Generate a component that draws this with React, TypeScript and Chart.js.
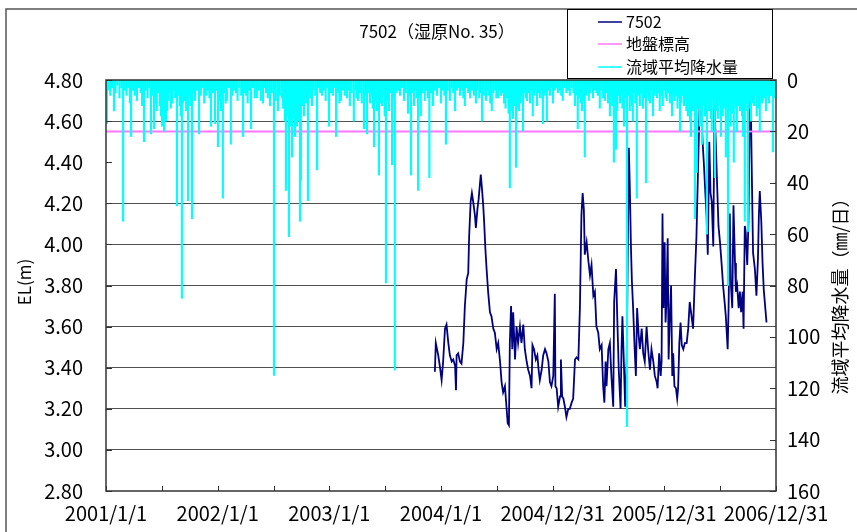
import React, { useEffect, useRef } from "react";
import { Chart, registerables } from "chart.js";

Chart.register(...registerables);

const TITLE = "7502（湿原No. 35）";
const LEFT_AXIS_TITLE = "EL(m)";
const RIGHT_AXIS_TITLE = "流域平均降水量（㎜/日）";

// x axis: days counted from 2001/1/1
const X_MIN_DAY = 0;
const X_MAX_DAY = 2190;
const X_STEP = 365;
const X_MINOR_STEP = 182.5;
const xTickLabels = ["2001/1/1", "2002/1/1", "2003/1/1", "2004/1/1", "2004/12/31", "2005/12/31", "2006/12/31"];

const LEVEL_MIN = 2.8;
const LEVEL_MAX = 4.8;
const LEVEL_STEP = 0.2;
const levelNoGrid = [4.4];

const RAIN_MIN = 0;
const RAIN_MAX = 160;
const RAIN_STEP = 20;

const groundElevation = 4.55;

const seriesLabels = ["7502", "地盤標高", "流域平均降水量"];
const seriesColors = ["#000080", "#FF77FF", "#00FFFF"];

// [day, EL (m)]
const levelSeries: [number, number][] = [
  [1075, 3.38], [1078, 3.52], [1086, 3.46], [1091, 3.41], [1097, 3.34], [1102, 3.43], [1108, 3.59], [1113, 3.61],
  [1119, 3.52], [1124, 3.46], [1130, 3.43], [1135, 3.44], [1141, 3.41], [1144, 3.29], [1146, 3.46], [1151, 3.47],
  [1157, 3.43], [1162, 3.42], [1168, 3.52], [1173, 3.70], [1179, 3.83], [1184, 3.86], [1187, 4.04], [1192, 4.21],
  [1196, 4.25], [1200, 4.21], [1206, 4.14], [1209, 4.08], [1214, 4.17], [1218, 4.22], [1222, 4.29], [1225, 4.34],
  [1229, 4.27], [1233, 4.19], [1236, 4.11], [1240, 3.98], [1244, 3.88], [1249, 3.77], [1255, 3.67], [1260, 3.65],
  [1266, 3.59], [1271, 3.57], [1277, 3.49], [1282, 3.52], [1288, 3.43], [1293, 3.33], [1298, 3.28], [1304, 3.31],
  [1309, 3.21], [1313, 3.13], [1317, 3.12], [1320, 3.52], [1324, 3.70], [1328, 3.49], [1331, 3.67], [1337, 3.44],
  [1342, 3.60], [1347, 3.52], [1353, 3.60], [1358, 3.52], [1364, 3.61], [1369, 3.49], [1375, 3.43], [1380, 3.39],
  [1386, 3.36], [1391, 3.30], [1394, 3.51], [1399, 3.49], [1405, 3.44], [1410, 3.46], [1414, 3.39], [1418, 3.34],
  [1424, 3.39], [1429, 3.46], [1435, 3.49], [1440, 3.47], [1446, 3.43], [1451, 3.33], [1456, 3.31], [1462, 3.36],
  [1467, 3.76], [1469, 3.31], [1473, 3.30], [1478, 3.21], [1484, 3.26], [1487, 3.44], [1491, 3.26], [1495, 3.25],
  [1500, 3.21], [1505, 3.16], [1511, 3.20], [1516, 3.20], [1522, 3.23], [1527, 3.25], [1533, 3.44], [1538, 3.45],
  [1544, 3.44], [1549, 3.69], [1554, 4.14], [1558, 4.25], [1562, 4.17], [1565, 3.95], [1571, 4.01], [1576, 3.93],
  [1582, 3.85], [1587, 3.90], [1593, 3.75], [1598, 3.77], [1603, 3.60], [1609, 3.57], [1614, 3.49], [1620, 3.51],
  [1625, 3.31], [1629, 3.23], [1633, 3.43], [1636, 3.31], [1642, 3.49], [1647, 3.52], [1652, 3.36], [1658, 3.21],
  [1661, 3.72], [1667, 3.88], [1671, 3.65], [1676, 3.39], [1682, 3.20], [1685, 3.49], [1688, 3.65], [1693, 3.41],
  [1697, 3.21], [1702, 3.44], [1706, 4.04], [1709, 4.47], [1712, 4.29], [1716, 3.98], [1719, 3.82], [1723, 3.69],
  [1728, 3.49], [1732, 3.36], [1736, 3.69], [1741, 3.56], [1745, 3.49], [1751, 3.59], [1756, 3.47], [1761, 3.43],
  [1767, 3.60], [1772, 3.49], [1778, 3.39], [1783, 3.49], [1789, 3.43], [1794, 3.36], [1800, 3.33], [1803, 3.30],
  [1808, 3.47], [1813, 3.36], [1816, 3.43], [1819, 4.15], [1822, 3.69], [1826, 4.01], [1829, 3.62], [1832, 3.72],
  [1836, 4.03], [1839, 3.44], [1843, 3.65], [1847, 3.80], [1851, 3.36], [1854, 3.47], [1858, 3.31], [1863, 3.30],
  [1867, 3.25], [1870, 3.30], [1874, 3.52], [1878, 3.62], [1882, 3.51], [1887, 3.49], [1892, 3.52], [1898, 3.52],
  [1903, 3.59], [1908, 3.72], [1914, 3.65], [1919, 3.59], [1925, 3.85], [1930, 4.04], [1936, 4.42], [1941, 4.71],
  [1946, 4.66], [1950, 4.50], [1954, 4.40], [1959, 4.25], [1963, 4.14], [1967, 3.95], [1972, 4.50], [1976, 4.25],
  [1980, 4.21], [1985, 3.99], [1989, 4.68], [1993, 4.50], [1998, 4.27], [2002, 4.09], [2007, 4.01], [2012, 3.91],
  [2017, 3.80], [2022, 3.72], [2026, 3.65], [2032, 3.49], [2035, 3.69], [2039, 4.15], [2042, 3.82], [2047, 3.69],
  [2051, 4.19], [2056, 3.91], [2059, 3.77], [2063, 3.80], [2068, 3.69], [2072, 3.77], [2076, 3.67], [2081, 3.77],
  [2084, 3.59], [2088, 4.09], [2091, 4.06], [2096, 3.90], [2100, 4.11], [2105, 4.76], [2108, 4.66], [2111, 4.34],
  [2115, 3.96], [2121, 3.88], [2126, 3.75], [2131, 3.93], [2134, 4.14], [2137, 4.26], [2142, 4.11], [2146, 3.91],
  [2150, 3.78], [2155, 3.69], [2159, 3.62],
];

// [day, mm/day]
const rainSeries: [number, number][] = [
  [3, 17], [8, 4], [14, 6], [20, 3], [26, 12], [31, 5], [37, 2], [44, 7], [50, 3], [56, 55], [61, 4], [67, 6], [73, 3],
  [78, 9], [82, 22], [88, 4], [94, 6], [101, 8], [107, 3], [113, 5], [118, 10], [124, 24], [130, 4], [136, 7], [141, 3],
  [147, 21], [152, 6], [157, 19], [162, 9], [166, 12], [170, 5], [176, 10], [180, 14], [183, 18], [187, 11], [190, 20],
  [193, 9], [196, 16], [200, 12], [203, 8], [207, 5], [212, 11], [216, 9], [221, 4], [226, 7], [232, 49], [236, 6],
  [241, 10], [245, 14], [248, 85], [252, 9], [258, 8], [262, 12], [268, 47], [272, 6], [277, 10], [281, 54], [286, 5],
  [291, 8], [297, 4], [304, 21], [310, 6], [315, 3], [321, 9], [327, 6], [333, 4], [338, 7], [343, 18], [349, 5],
  [356, 17], [361, 4], [366, 26], [371, 8], [376, 12], [382, 46], [387, 5], [391, 9], [395, 8], [401, 3], [408, 25],
  [413, 6], [419, 4], [425, 5], [430, 8], [436, 3], [442, 6], [448, 22], [453, 5], [458, 6], [463, 9], [468, 4],
  [474, 19], [480, 3], [486, 7], [493, 7], [499, 4], [506, 8], [513, 9], [518, 3], [523, 5], [529, 7], [536, 10],
  [542, 5], [549, 115], [555, 8], [562, 12], [568, 6], [575, 7], [579, 11], [582, 10], [585, 16], [588, 43], [591, 14],
  [595, 9], [598, 61], [602, 13], [605, 18], [608, 30], [612, 15], [615, 11], [618, 22], [621, 9], [624, 18], [628, 12],
  [631, 16], [634, 55], [637, 39], [641, 10], [644, 8], [647, 14], [651, 6], [655, 9], [660, 47], [664, 5], [668, 7],
  [673, 10], [678, 4], [684, 6], [690, 35], [695, 3], [700, 5], [706, 6], [712, 4], [718, 8], [723, 3], [729, 18],
  [735, 5], [742, 6], [747, 3], [752, 22], [758, 5], [763, 9], [768, 8], [774, 4], [780, 6], [785, 3], [788, 7],
  [793, 4], [797, 10], [803, 5], [810, 16], [816, 4], [820, 7], [824, 8], [830, 5], [836, 9], [843, 19], [848, 6],
  [853, 21], [858, 5], [863, 9], [868, 6], [872, 11], [876, 26], [880, 8], [885, 12], [889, 7], [892, 37], [896, 9],
  [902, 10], [906, 6], [911, 14], [915, 79], [919, 8], [925, 12], [929, 5], [935, 33], [939, 7], [944, 113], [949, 5],
  [955, 4], [961, 6], [967, 3], [974, 8], [980, 5], [987, 13], [992, 6], [997, 37], [1002, 5], [1007, 10], [1012, 4],
  [1016, 7], [1020, 43], [1025, 6], [1029, 14], [1034, 5], [1038, 3], [1042, 8], [1047, 4], [1052, 7], [1057, 38],
  [1062, 5], [1069, 10], [1075, 4], [1082, 6], [1088, 3], [1095, 9], [1101, 4], [1106, 6], [1111, 25], [1117, 4],
  [1124, 8], [1130, 3], [1135, 5], [1141, 12], [1147, 4], [1152, 3], [1157, 6], [1163, 4], [1168, 7], [1173, 10],
  [1179, 3], [1184, 5], [1190, 7], [1196, 4], [1203, 6], [1209, 9], [1214, 4], [1220, 7], [1225, 5], [1229, 16],
  [1235, 6], [1242, 8], [1247, 4], [1252, 6], [1256, 9], [1261, 12], [1266, 5], [1272, 4], [1276, 7], [1281, 7],
  [1286, 4], [1291, 6], [1296, 5], [1301, 9], [1306, 11], [1311, 7], [1316, 13], [1320, 42], [1324, 9], [1327, 12],
  [1330, 15], [1334, 10], [1337, 8], [1340, 34], [1344, 11], [1347, 7], [1350, 12], [1354, 9], [1358, 6], [1363, 20],
  [1368, 5], [1372, 7], [1376, 8], [1381, 5], [1386, 9], [1390, 4], [1395, 14], [1400, 6], [1405, 4], [1409, 10],
  [1414, 5], [1419, 7], [1423, 4], [1428, 17], [1433, 6], [1437, 5], [1441, 16], [1446, 4], [1451, 6], [1456, 3],
  [1461, 9], [1467, 4], [1472, 3], [1477, 5], [1483, 4], [1488, 6], [1493, 8], [1499, 3], [1505, 5], [1510, 4],
  [1516, 6], [1522, 3], [1528, 5], [1533, 10], [1538, 6], [1542, 19], [1547, 7], [1552, 9], [1556, 12], [1560, 8],
  [1565, 30], [1569, 6], [1574, 4], [1578, 8], [1583, 5], [1588, 3], [1592, 7], [1597, 4], [1603, 5], [1608, 6],
  [1614, 11], [1619, 4], [1625, 7], [1631, 8], [1636, 5], [1641, 9], [1647, 14], [1651, 6], [1655, 10], [1660, 32],
  [1664, 8], [1667, 27], [1671, 12], [1675, 6], [1680, 9], [1684, 5], [1688, 11], [1693, 18], [1698, 7], [1703, 135],
  [1707, 6], [1712, 12], [1716, 8], [1719, 10], [1722, 16], [1726, 5], [1730, 9], [1735, 46], [1740, 6], [1745, 10],
  [1750, 5], [1755, 11], [1760, 7], [1765, 40], [1770, 5], [1774, 8], [1778, 9], [1783, 4], [1788, 14], [1793, 6],
  [1797, 4], [1801, 7], [1806, 5], [1810, 12], [1815, 6], [1820, 10], [1825, 4], [1829, 7], [1833, 8], [1838, 5],
  [1843, 9], [1846, 6], [1850, 14], [1855, 5], [1859, 8], [1863, 6], [1868, 11], [1872, 7], [1876, 20], [1880, 9],
  [1884, 6], [1889, 10], [1893, 8], [1897, 12], [1902, 14], [1906, 9], [1909, 16], [1912, 22], [1915, 10], [1918, 12],
  [1921, 8], [1925, 54], [1928, 14], [1931, 36], [1935, 11], [1938, 9], [1941, 18], [1945, 12], [1948, 25], [1951, 8],
  [1955, 10], [1958, 14], [1961, 9], [1964, 60], [1968, 7], [1971, 12], [1974, 9], [1977, 15], [1980, 20], [1984, 8],
  [1987, 11], [1990, 38], [1994, 9], [1997, 12], [2000, 15], [2004, 7], [2007, 10], [2010, 22], [2013, 9], [2016, 14],
  [2020, 8], [2023, 11], [2026, 30], [2029, 10], [2033, 80], [2036, 9], [2039, 12], [2042, 18], [2046, 8], [2049, 13],
  [2052, 32], [2055, 9], [2059, 11], [2062, 20], [2065, 8], [2069, 10], [2072, 12], [2076, 9], [2079, 14], [2082, 22],
  [2085, 10], [2088, 55], [2091, 12], [2095, 9], [2098, 59], [2101, 11], [2105, 8], [2108, 16], [2112, 7], [2115, 9],
  [2118, 10], [2122, 6], [2127, 14], [2131, 8], [2134, 11], [2137, 20], [2141, 6], [2144, 9], [2147, 8], [2151, 5],
  [2154, 7], [2157, 12], [2161, 6], [2164, 4], [2167, 9], [2171, 6], [2173, 6], [2177, 5], [2180, 28], [2184, 7],
  [2188, 4],
];

const FONT = "'Liberation Sans Narrow', 'Noto Sans CJK JP', sans-serif";
const CJK_FONT = "'Noto Sans CJK JP', 'Liberation Sans Narrow', sans-serif";

const decorPlugin = {
  id: "decor",
  beforeDraw(chart: any) {
    const { ctx, width, height } = chart;
    ctx.save();
    ctx.fillStyle = "#ffffff";
    ctx.fillRect(0, 0, width, height);
    ctx.restore();
  },
  afterDraw(chart: any) {
    const { ctx, chartArea: a, scales } = chart;
    ctx.save();

    // outer frame
    ctx.strokeStyle = "#555555";
    ctx.lineWidth = 1.5;
    ctx.beginPath();
    ctx.moveTo(6, 540);
    ctx.lineTo(6, 9);
    ctx.lineTo(860, 9);
    ctx.stroke();

    // plot border
    ctx.strokeStyle = "#333333";
    ctx.lineWidth = 1.5;
    ctx.strokeRect(a.left, a.top, a.right - a.left, a.bottom - a.top);

    // inward ticks
    ctx.lineWidth = 1;
    ctx.beginPath();
    scales.y.ticks.forEach((t: any) => {
      const py = Math.round(scales.y.getPixelForValue(t.value)) + 0.5;
      ctx.moveTo(a.left, py);
      ctx.lineTo(a.left + 6, py);
    });
    scales.y2.ticks.forEach((t: any) => {
      const py = Math.round(scales.y2.getPixelForValue(t.value)) + 0.5;
      ctx.moveTo(a.right - 6, py);
      ctx.lineTo(a.right, py);
    });
    for (let d = X_MIN_DAY; d <= X_MAX_DAY + 0.01; d += X_MINOR_STEP) {
      const px = Math.round(scales.x.getPixelForValue(d)) + 0.5;
      ctx.moveTo(px, a.bottom);
      ctx.lineTo(px, a.bottom - 5);
    }
    ctx.stroke();

    // title
    ctx.fillStyle = "#000000";
    ctx.font = `17px ${FONT}`;
    ctx.textAlign = "center";
    ctx.textBaseline = "middle";
    ctx.fillText(TITLE, 437, 32);

    // axis titles
    ctx.save();
    ctx.translate(25, 282);
    ctx.rotate(-Math.PI / 2);
    ctx.font = `17px ${FONT}`;
    ctx.fillText(LEFT_AXIS_TITLE, 0, 0);
    ctx.restore();

    ctx.save();
    ctx.translate(840, 292);
    ctx.rotate(-Math.PI / 2);
    ctx.font = `18px ${CJK_FONT}`;
    ctx.fillText(RIGHT_AXIS_TITLE, 0, 0);
    ctx.restore();

    // legend
    const lx = 567.5, ly = 9.5, lw = 205, lh = 69;
    ctx.fillStyle = "#ffffff";
    ctx.fillRect(lx, ly, lw, lh);
    ctx.strokeStyle = "#000000";
    ctx.lineWidth = 1;
    ctx.strokeRect(lx, ly, lw, lh);
    const rows = [22, 44, 67];
    ctx.font = `16px ${FONT}`;
    ctx.textAlign = "left";
    ctx.textBaseline = "middle";
    seriesLabels.forEach((lab, i) => {
      ctx.strokeStyle = seriesColors[i];
      ctx.lineWidth = 1.5;
      ctx.beginPath();
      ctx.moveTo(598, rows[i]);
      ctx.lineTo(622, rows[i]);
      ctx.stroke();
      ctx.fillStyle = "#000000";
      ctx.fillText(lab, 626, rows[i]);
    });

    ctx.restore();
  },
};

export default function App() {
  const ref = useRef<HTMLCanvasElement>(null);

  useEffect(() => {
    if (!ref.current) return;
    const chart = new Chart(ref.current, {
      type: "line",
      data: {
        datasets: [
          {
            type: "bar",
            label: seriesLabels[2],
            data: rainSeries.map(([d, v]) => ({ x: d, y: v })),
            backgroundColor: seriesColors[2],
            borderWidth: 0,
            barThickness: 1.5,
            xAxisID: "x",
            yAxisID: "y2",
            order: 0,
          } as any,
          {
            type: "line",
            label: seriesLabels[1],
            data: [
              { x: X_MIN_DAY, y: groundElevation },
              { x: X_MAX_DAY, y: groundElevation },
            ],
            borderColor: seriesColors[1],
            borderWidth: 2,
            pointRadius: 0,
            xAxisID: "x",
            yAxisID: "y",
            order: 1,
          },
          {
            type: "line",
            label: seriesLabels[0],
            data: levelSeries.map(([d, v]) => ({ x: d, y: v })),
            borderColor: seriesColors[0],
            borderWidth: 1.8,
            pointRadius: 0,
            tension: 0,
            xAxisID: "x",
            yAxisID: "y",
            order: 2,
          },
        ],
      },
      options: {
        responsive: false,
        animation: false,
        maintainAspectRatio: false,
        layout: { padding: { top: 80, left: 0, right: 0, bottom: 0 } },
        plugins: {
          legend: { display: false },
          title: { display: false },
          tooltip: { enabled: false },
        },
        scales: {
          x: {
            type: "linear",
            position: "bottom",
            min: X_MIN_DAY,
            max: X_MAX_DAY,
            offset: false,
            grid: { display: false, drawTicks: false },
            border: { display: false },
            ticks: {
              stepSize: X_STEP,
              autoSkip: false,
              maxRotation: 0,
              padding: 10,
              color: "#000000",
              font: { family: FONT, size: 20 },
              callback: (_v: any, i: number) => xTickLabels[i],
            },
            afterFit: (s: any) => {
              s.height = 41;
            },
          },
          y: {
            type: "linear",
            position: "left",
            min: LEVEL_MIN,
            max: LEVEL_MAX,
            grid: {
              drawTicks: false,
              lineWidth: 1,
              color: (c: any) => {
                const v = c.tick ? c.tick.value : undefined;
                if (v === undefined) return "rgba(0,0,0,0)";
                if (Math.abs(v - LEVEL_MIN) < 1e-6 || Math.abs(v - LEVEL_MAX) < 1e-6) return "rgba(0,0,0,0)";
                if (levelNoGrid.some((g) => Math.abs(v - g) < 1e-6)) return "rgba(0,0,0,0)";
                return "#505050";
              },
            },
            border: { display: false },
            ticks: {
              stepSize: LEVEL_STEP,
              padding: 23,
              color: "#000000",
              font: { family: FONT, size: 20 },
              callback: (v: any) => Number(v).toFixed(2),
            },
            afterFit: (s: any) => {
              s.width = 106;
            },
          },
          y2: {
            type: "linear",
            position: "right",
            reverse: true,
            min: RAIN_MIN,
            max: RAIN_MAX,
            grid: { display: false, drawTicks: false },
            border: { display: false },
            ticks: {
              stepSize: RAIN_STEP,
              padding: 11,
              color: "#000000",
              font: { family: FONT, size: 20 },
            },
            afterFit: (s: any) => {
              s.width = 81;
            },
          },
        },
      },
      plugins: [decorPlugin],
    });
    return () => chart.destroy();
  }, []);

  return (
    <div style={{ position: "absolute", left: 0, top: 0, width: 857, height: 532, background: "#ffffff" }}>
      <canvas ref={ref} width={857} height={532} style={{ display: "block", width: 857, height: 532 }} />
    </div>
  );
}
